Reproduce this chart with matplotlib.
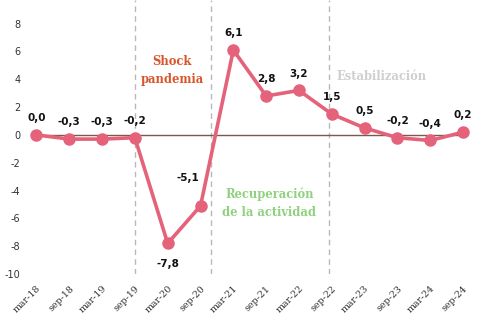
import matplotlib.pyplot as plt

# semestral variation, %
periods = ["mar-18", "sep-18", "mar-19", "sep-19", "mar-20", "sep-20", "mar-21",
           "sep-21", "mar-22", "sep-22", "mar-23", "sep-23", "mar-24", "sep-24"]
values = [0.0, -0.3, -0.3, -0.2, -7.8, -5.1, 6.1, 2.8, 3.2, 1.5, 0.5, -0.2, -0.4, 0.2]
phase_breaks = [3, 5.33, 8.93]
y_ticks = [-10, -8, -6, -4, -2, 0, 2, 4, 6, 8]

fig = plt.figure(figsize=(4.95, 3.27), dpi=100)
ax = fig.add_axes([0.055, 0.162, 0.913, 0.838])

x = list(range(len(periods)))
ax.hlines(0, 0, len(periods) - 1, color="#7a5a4c", lw=1, zorder=1)
for b in phase_breaks:
    ax.axvline(b, color="#b8b8b8", lw=1, ls=(0, (4, 3)), zorder=0)

ax.plot(x, values, color="#e5637a", lw=2.6, marker="o", ms=8, zorder=3)

for i, v in enumerate(values):
    label = f"{v:.1f}".replace(".", ",")
    if i == 4:
        off = (0, -15)
    elif i == 5:
        off = (-9, 20)
    else:
        off = (0, 12)
    ax.annotate(label, (i, v), xytext=off, textcoords="offset points",
                ha="center", va="center", fontsize=7.5, fontweight="bold", color="#111111")

ax.text(4.13, 4.6, "Shock\npandemia", ha="center", va="center", fontsize=8.3,
        fontweight="bold", family="DejaVu Serif", color="#d9552b", linespacing=1.5)
ax.text(7.1, -4.9, "Recuperación\nde la actividad", ha="center", va="center", fontsize=8.3,
        fontweight="bold", family="DejaVu Serif", color="#8fd27e", linespacing=1.5)
ax.text(10.5, 4.2, "Estabilización", ha="center", va="center", fontsize=8.3,
        fontweight="bold", family="DejaVu Serif", color="#cfcfcf")

ax.set_xlim(-0.28, 13.49)
ax.set_ylim(-10, 9.7)
ax.set_yticks(y_ticks)
ax.set_yticklabels([str(t) for t in y_ticks], fontsize=7, color="#333333")
ax.set_xticks(x)
ax.set_xticklabels(periods, rotation=45, ha="right", rotation_mode="anchor",
                   fontsize=6.8, family="DejaVu Serif", color="#333333")
ax.tick_params(axis="y", length=0, pad=5)
ax.tick_params(axis="x", length=0, pad=7)
for s in ax.spines.values():
    s.set_visible(False)

fig.savefig("out.png", dpi=100)
